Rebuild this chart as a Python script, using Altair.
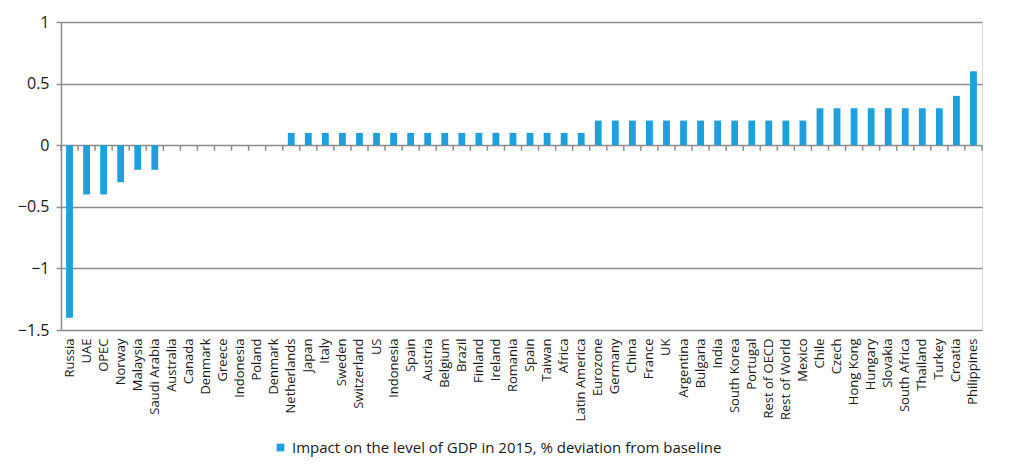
import altair as alt
import pandas as pd

# Countries/regions in display order (some names appear twice)
countries = [
    "Russia", "UAE", "OPEC", "Norway", "Malaysia", "Saudi Arabia", "Australia",
    "Canada", "Denmark", "Greece", "Indonesia", "Poland", "Denmark",
    "Netherlands", "Japan", "Italy", "Sweden", "Switzerland", "US", "Indonesia",
    "Spain", "Austria", "Belgium", "Brazil", "Finland", "Ireland", "Romania",
    "Spain", "Taiwan", "Africa", "Latin America", "Eurozone", "Germany", "China",
    "France", "UK", "Argentina", "Bulgaria", "India", "South Korea", "Portugal",
    "Rest of OECD", "Rest of World", "Mexico", "Chile", "Czech", "Hong Kong",
    "Hungary", "Slovakia", "South Africa", "Thailand", "Turkey", "Croatia",
    "Philippines",
]

impact = [
    -1.4, -0.4, -0.4, -0.3, -0.2, -0.2, 0.0,
    0.0, 0.0, 0.0, 0.0, 0.0, 0.0,
    0.1, 0.1, 0.1, 0.1, 0.1, 0.1, 0.1,
    0.1, 0.1, 0.1, 0.1, 0.1, 0.1, 0.1,
    0.1, 0.1, 0.1, 0.1, 0.2, 0.2, 0.2,
    0.2, 0.2, 0.2, 0.2, 0.2, 0.2, 0.2,
    0.2, 0.2, 0.2, 0.3, 0.3, 0.3,
    0.3, 0.3, 0.3, 0.3, 0.3, 0.4,
    0.6,
]

y_ticks = [-1.5, -1, -0.5, 0, 0.5, 1]
series_name = "Impact on the level of GDP in 2015, % deviation from baseline"

n = len(countries)
df = pd.DataFrame({
    "idx": list(range(n)),
    "country": countries,
    "impact": impact,
    "series": series_name,
})
# category boundaries for the separator ticks on the zero line
bounds = pd.DataFrame({"b": list(range(n + 1))})

FONT = "Open Sans"
GRID = "#8c8c8c"
BLUE = "#1fa0dc"
TEXT = "#1a1a1a"
W, H = 921, 308

label_expr = "[" + ",".join("'" + c + "'" for c in countries) + "][datum.value]"
# paddingOuter = paddingInner / 2 keeps each step exactly W / n wide
x_band = alt.Scale(paddingInner=0.6, paddingOuter=0.3)
y_scale = alt.Scale(domain=[-1.5, 1], nice=False)

bars = alt.Chart(df).mark_bar(color=BLUE).encode(
    x=alt.X(
        "idx:O", scale=x_band, title=None,
        axis=alt.Axis(
            labelExpr=label_expr, labelAngle=-90, labelFontSize=13,
            labelColor=TEXT, labelFont=FONT, ticks=False, domain=False,
            labelPadding=8,
        ),
    ),
    y=alt.Y(
        "impact:Q", scale=y_scale, title=None,
        axis=alt.Axis(
            values=y_ticks, format="~g", labelFontSize=16, labelFont=FONT,
            labelColor=TEXT, grid=True, gridColor=GRID, gridWidth=1.5,
            domainColor=GRID, domainWidth=1.5, tickColor=GRID, tickWidth=1.5,
            tickSize=5, labelPadding=7,
        ),
    ),
    color=alt.Color(
        "series:N", scale=alt.Scale(range=[BLUE]), title=None,
        legend=alt.Legend(
            orient="none", legendX=212, legendY=418, symbolType="square",
            symbolSize=60, symbolStrokeWidth=0, labelFontSize=15,
            labelFont=FONT, labelColor=TEXT, labelLimit=700,
        ),
    ),
)

sep_ticks = alt.Chart(bounds).transform_calculate(
    y0="0", y1="-0.045"
).mark_rule(color=GRID, strokeWidth=1.5).encode(
    x=alt.X("b:Q", scale=alt.Scale(domain=[0, n], nice=False, zero=False), axis=None),
    y=alt.Y("y0:Q", scale=y_scale),
    y2="y1:Q",
)

chart = (
    alt.layer(bars, sep_ticks)
    .resolve_scale(x="independent")
    .properties(
        width=W, height=H,
        autosize=alt.AutoSizeParams(type="none"),
        padding={"left": 61, "top": 22, "right": 42, "bottom": 145},
    )
    .configure_view(stroke=None)
    .configure(background="white")
)

chart.save("out.html", embed_options={"renderer": "svg", "actions": False})
